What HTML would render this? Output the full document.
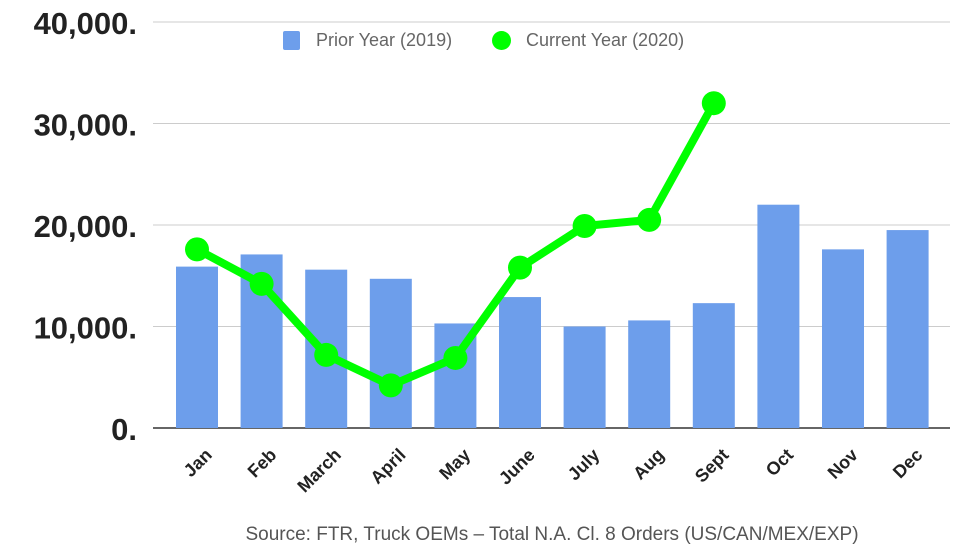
<!DOCTYPE html>
<html><head><meta charset="utf-8"><style>
body{margin:0;background:#fff;width:980px;height:552px;overflow:hidden}
svg{display:block;font-family:"Liberation Sans",sans-serif}
</style></head><body>
<svg id="chart" width="980" height="552" viewBox="0 0 980 552"></svg>
<script>
const categories=["Jan","Feb","March","April","May","June","July","Aug","Sept","Oct","Nov","Dec"];
const priorYear=[15900,17100,15600,14700,10300,12900,10000,10600,12300,22000,17600,19500];
const currentYear=[17600,14200,7200,4200,6900,15800,19900,20500,32000];
const yTicks=[0,10000,20000,30000,40000];
const yTickLabels=["0.","10,000.","20,000.","30,000.","40,000."];
const NS="http://www.w3.org/2000/svg";
const svg=document.getElementById('chart');
const y0=428,yTop=22,xL=153,xR=950;
const y=v=>y0-(v/40000)*(y0-yTop);
const x0=197,step=64.6;
const x=i=>x0+i*step;
function mk(t,a,p){const e=document.createElementNS(NS,t);for(const k in a)e.setAttribute(k,a[k]);(p||svg).appendChild(e);return e;}
yTicks.forEach((v,i)=>{
  const l=mk('line',{x1:xL,x2:xR,y1:y(v),y2:y(v),stroke:i==0?'#333':'#ccc','stroke-width':i==0?1.5:1});
  
  
  const t=mk('text',{x:137,y:y(v)+12,'text-anchor':'end','font-size':31,'font-weight':'bold',fill:'#222'});
  t.textContent=yTickLabels[i];
  
  
});
priorYear.forEach((v,i)=>{
  const r=mk('rect',{x:x(i)-21,y:y(v),width:42,height:y0-y(v),fill:'#6d9eeb'});
  
  
});
const pts=currentYear.map((v,i)=>x(i)+','+y(v)).join(' ');
const pl=mk('polyline',{points:pts,fill:'none',stroke:'#00ff00','stroke-width':8,'stroke-linejoin':'round'});


currentYear.forEach((v,i)=>{
  const c=mk('circle',{cx:x(i),cy:y(v),r:12,fill:'#00ff00'});
  
  
});
categories.forEach((c,i)=>{
  const ax=x(i)+16, ay=456;
  const t=mk('text',{x:ax,y:ay,'text-anchor':'end','font-size':18,'font-weight':'bold',fill:'#222',transform:'rotate(-45 '+ax+' '+ay+')'});
  t.textContent=c;
  
  
});
</script>
<div style="position:absolute;left:0;top:0;font:18px 'Liberation Sans',sans-serif;color:#666">
<span style="position:absolute;left:283px;top:31px;width:17px;height:19px;background:#6d9eeb;border-radius:2px"></span>
<span style="position:absolute;left:316px;top:30px;white-space:nowrap">Prior Year (2019)</span>
<span style="position:absolute;left:492px;top:31px;width:19px;height:19px;background:#00ff00;border-radius:50%"></span>
<span style="position:absolute;left:526px;top:30px;white-space:nowrap">Current Year (2020)</span>
</div>
<div style="position:absolute;left:0;width:1104px;text-align:center;top:524px;font:19px 'Liberation Sans',sans-serif;color:#555">Source: FTR, Truck OEMs – Total N.A. Cl. 8 Orders (US/CAN/MEX/EXP)</div>
</body></html>
